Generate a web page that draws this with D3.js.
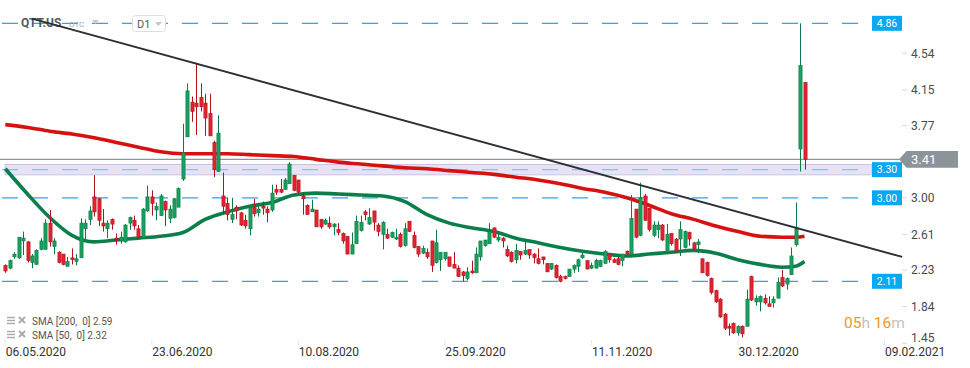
<!DOCTYPE html>
<html><head><meta charset="utf-8">
<script src="https://cdn.jsdelivr.net/npm/d3@7"></script>
<style>
html,body{margin:0;padding:0;background:#fff;}
svg{display:block;font-family:Roboto,"Noto Sans",Arial,sans-serif;}
</style></head><body>
<svg id="chart" width="970" height="368"></svg>
<script>
// ---- DATA (daily candles, QTT.US) ----
const openP = [
2.28,2.25,2.37,2.36,2.54,2.53,2.31,2.29,2.45,2.45,
2.73,2.48,2.42,2.40,2.27,2.36,2.32,2.36,2.67,2.77,
3.01,2.99,2.73,2.67,2.77,2.57,2.54,2.53,2.73,2.76,
2.67,2.58,2.86,3.01,2.87,2.81,2.96,2.78,2.79,2.90,
3.20,3.65,4.02,4.01,4.07,4.01,3.90,3.59,3.28,3.02,
2.94,2.77,2.90,2.84,2.76,2.67,2.90,2.84,2.91,2.88,
2.87,3.09,3.09,3.09,3.15,3.24,3.19,3.02,2.92,2.85,
2.87,2.77,2.72,2.73,2.69,2.66,2.62,2.59,2.40,2.51,
2.65,2.85,2.72,2.86,2.71,2.61,2.61,2.58,2.56,2.61,
2.49,2.75,2.60,2.48,2.41,2.42,2.54,2.31,2.34,2.35,
2.37,2.29,2.25,2.21,2.14,2.22,2.20,2.37,2.49,2.51,
2.68,2.55,2.57,2.45,2.42,2.34,2.43,2.40,2.45,2.40,
2.35,2.37,2.30,2.24,2.28,2.16,2.16,2.16,2.24,2.27,
2.36,2.33,2.25,2.25,2.27,2.30,2.40,2.34,2.35,2.33,
2.43,2.40,2.88,2.60,3.02,2.89,2.60,2.66,2.71,2.42,
2.62,2.56,2.56,2.47,2.63,2.52,2.50,2.35,2.31,2.14,
2.01,1.92,1.76,1.63,1.66,1.56,1.63,1.63,2.16,1.89,
1.89,1.93,1.87,1.88,1.93,2.15,2.08,2.18,2.50,3.52,
4.23];
const highP = [
2.29,2.34,2.42,2.58,2.64,2.54,2.40,2.45,2.57,2.77,
2.87,2.57,2.43,2.40,2.37,2.46,2.40,2.78,2.77,2.91,
3.24,3.00,2.88,2.76,2.78,2.62,2.64,2.72,2.80,2.81,
2.71,2.89,3.13,3.08,2.95,3.04,2.97,2.92,3.00,3.11,
3.79,4.22,4.08,4.44,4.22,4.11,4.11,3.61,3.88,3.27,
3.00,3.00,2.92,2.85,2.82,2.91,2.99,2.94,2.96,2.91,
3.14,3.14,3.20,3.21,3.38,3.24,3.19,3.05,2.93,2.98,
2.87,2.77,2.78,2.80,2.73,2.73,2.63,2.59,2.63,2.81,
2.81,2.87,2.89,2.86,2.73,2.75,2.67,2.64,2.67,2.63,
2.73,2.75,2.64,2.48,2.49,2.46,2.54,2.66,2.42,2.42,
2.37,2.42,2.28,2.22,2.26,2.33,2.47,2.54,2.55,2.73,
2.68,2.63,2.58,2.49,2.43,2.51,2.43,2.56,2.45,2.41,
2.46,2.37,2.30,2.30,2.29,2.18,2.17,2.24,2.29,2.35,
2.42,2.33,2.31,2.35,2.34,2.44,2.40,2.36,2.37,2.40,
2.44,3.03,2.88,3.16,3.04,2.89,2.75,2.75,2.72,2.72,
2.62,2.57,2.75,2.65,2.64,2.53,2.56,2.35,2.32,2.15,
2.02,1.93,1.77,1.66,1.67,1.64,1.64,2.02,2.17,1.96,
1.96,1.97,1.95,1.95,2.15,2.23,2.15,2.47,2.95,4.86,
4.23];
const lowP = [
2.20,2.24,2.35,2.35,2.39,2.31,2.25,2.29,2.44,2.45,
2.48,2.40,2.30,2.28,2.27,2.29,2.28,2.36,2.56,2.71,
2.80,2.70,2.64,2.57,2.66,2.50,2.51,2.52,2.66,2.66,
2.57,2.58,2.85,2.81,2.76,2.81,2.70,2.73,2.78,2.90,
3.18,3.65,3.81,3.67,3.92,3.66,3.66,3.22,3.28,2.82,
2.76,2.73,2.77,2.70,2.67,2.60,2.80,2.80,2.82,2.74,
2.85,3.03,3.05,3.09,3.15,3.07,3.05,2.82,2.82,2.85,
2.69,2.67,2.71,2.67,2.60,2.60,2.51,2.40,2.40,2.51,
2.64,2.76,2.71,2.65,2.59,2.45,2.56,2.57,2.55,2.47,
2.48,2.64,2.46,2.37,2.40,2.35,2.21,2.30,2.22,2.33,
2.27,2.25,2.16,2.11,2.12,2.19,2.20,2.33,2.48,2.51,
2.57,2.53,2.47,2.37,2.31,2.30,2.34,2.39,2.35,2.30,
2.29,2.29,2.21,2.23,2.14,2.10,2.13,2.16,2.20,2.21,
2.35,2.24,2.24,2.25,2.26,2.30,2.31,2.31,2.28,2.27,
2.39,2.40,2.57,2.59,2.76,2.64,2.58,2.57,2.54,2.40,
2.49,2.42,2.38,2.46,2.49,2.44,2.41,2.20,2.16,1.97,
1.88,1.72,1.59,1.53,1.55,1.53,1.51,1.63,1.90,1.85,
1.79,1.86,1.84,1.83,1.93,2.05,2.02,2.18,2.48,3.28,
3.30];
const closeP = [
2.22,2.33,2.40,2.58,2.57,2.33,2.38,2.44,2.54,2.73,
2.53,2.54,2.31,2.29,2.32,2.34,2.35,2.73,2.73,2.86,
2.85,2.76,2.70,2.73,2.72,2.55,2.58,2.71,2.79,2.70,
2.58,2.88,3.01,2.94,2.91,3.02,2.87,2.88,2.99,3.10,
3.48,4.14,3.92,3.97,3.97,3.85,3.66,3.30,3.69,2.91,
2.82,2.82,2.86,2.71,2.70,2.90,2.83,2.88,2.89,2.84,
3.05,3.06,3.06,3.19,3.36,3.08,3.06,2.99,2.82,2.88,
2.69,2.69,2.76,2.69,2.72,2.63,2.54,2.40,2.50,2.75,
2.74,2.82,2.79,2.74,2.64,2.74,2.57,2.63,2.58,2.48,
2.67,2.64,2.47,2.40,2.46,2.37,2.28,2.52,2.42,2.42,
2.27,2.25,2.16,2.17,2.21,2.20,2.40,2.54,2.55,2.64,
2.58,2.58,2.54,2.38,2.32,2.44,2.39,2.44,2.39,2.36,
2.30,2.34,2.21,2.30,2.15,2.11,2.14,2.24,2.28,2.34,
2.39,2.24,2.28,2.33,2.33,2.43,2.34,2.31,2.29,2.40,
2.40,2.78,2.58,3.00,2.76,2.66,2.71,2.71,2.55,2.61,
2.51,2.43,2.66,2.64,2.56,2.46,2.53,2.20,2.17,1.99,
1.89,1.73,1.61,1.61,1.56,1.63,1.55,1.92,1.91,1.93,
1.95,1.88,1.84,1.92,2.10,2.06,2.14,2.38,2.68,4.41,
3.41];

const smaIdx = [0,5,10,15,20,25,30,35,40,45,50,55,60,65,70,75,80,85,90,95,100,105,110,115,120,125,130,135,140,145,150,155,160,165,170,175,178,180];
const sma200 = [3.78,3.75,3.71,3.68,3.64,3.59,3.54,3.49,3.47,3.47,3.47,3.46,3.45,3.44,3.41,3.38,3.36,3.34,3.32,3.31,3.29,3.27,3.25,3.22,3.19,3.15,3.10,3.06,3.00,2.92,2.83,2.77,2.70,2.64,2.59,2.58,2.58,2.59];
const sma50  = [3.31,3.04,2.79,2.60,2.53,2.55,2.57,2.59,2.63,2.77,2.85,2.91,2.95,3.03,3.05,3.04,3.03,3.02,2.96,2.82,2.73,2.68,2.64,2.57,2.52,2.47,2.43,2.40,2.38,2.40,2.42,2.44,2.41,2.34,2.29,2.26,2.27,2.32];

const trendIdx = [6, 202];
const trendVal = [4.91, 2.37];

const dateTickIdx = [0,33,66,99,132,165,198];
const dateLabels = ["06.05.2020","23.06.2020","10.08.2020","25.09.2020","11.11.2020","30.12.2020","09.02.2021"];
const priceTicks = [4.54,4.15,3.77,3.00,2.61,2.23,1.84,1.45];
const levels = [4.86,3.30,3.00,2.11];
const bandRange = [3.245,3.355];
const lastPrice = 3.41;
const legendItems = ["SMA [200,  0] 2.59","SMA [50,  0] 2.32"];

// ---- SCALES ----
const svg = d3.select("#chart");
const x = d3.scaleLinear().domain([0,180]).range([5.3,804.5]);
const y = d3.scaleLinear().domain([1.45,4.86]).range([197.8+1.55*93.8, 197.8-1.86*93.8]);

// band
svg.append("rect").attr("x",5).attr("width",867)
  .attr("y",y(bandRange[1])).attr("height",y(bandRange[0])-y(bandRange[1]))
  .attr("fill","#e7e2f4").attr("stroke","#cbc2e4").attr("stroke-width",1);

// level dashed lines
levels.forEach(v=>{
  svg.append("line").attr("x1",2).attr("x2",858).attr("y1",y(v)).attr("y2",y(v))
    .attr("stroke", v===3.30 ? "#7dc4ee" : "#2aa6ea").attr("stroke-width",1.3)
    .attr("stroke-dasharray","16,14");
});

// last price line
svg.append("line").attr("x1",0).attr("x2",900).attr("y1",y(lastPrice)).attr("y2",y(lastPrice))
  .attr("stroke","#8d9599").attr("stroke-width",1.2);

// title
const title = svg.append("g");
title.append("text").attr("x",21).attr("y",27).attr("font-size",12).attr("font-weight","bold")
  .attr("fill","#515b62").text("QTT.US");
title.append("text").attr("x",69).attr("y",27).attr("font-size",8).attr("fill","#9ea7ad").text("OTC");
title.append("path").attr("d","M92,20 L99,20 L95.5,24 Z").attr("fill","#c4c9cc");
title.append("rect").attr("x",132.5).attr("y",15.5).attr("width",33).attr("height",16).attr("rx",3)
  .attr("fill","#fff").attr("stroke","#dcdfe1");
title.append("text").attr("x",137).attr("y",27.5).attr("font-size",11).attr("fill","#515b62").text("D1");
title.append("path").attr("d","M155,22 L162,22 L158.5,26 Z").attr("fill","#c4c9cc");

// SMA lines
const line = d3.line().x(d=>x(d[0])).y(d=>y(d[1])).curve(d3.curveMonotoneX);
svg.append("path").datum(smaIdx.map((i,k)=>[i,sma200[k]])).attr("d",line)
  .attr("fill","none").attr("stroke","#d71010").attr("stroke-width",3.6).attr("stroke-linejoin","round");
svg.append("path").datum(smaIdx.map((i,k)=>[i,sma50[k]])).attr("d",line)
  .attr("fill","none").attr("stroke","#0a7f4b").attr("stroke-width",3.6).attr("stroke-linejoin","round");

// candles
const candles = openP.map((o,i)=>({i,o,h:highP[i],l:lowP[i],c:closeP[i]}));
const cg = svg.append("g");
candles.forEach(d=>{
  const up = d.c>=d.o;
  const stroke = up ? "#0b7a45" : "#b2141f";
  const fill = up ? "#17a05e" : "#e0232f";
  const cx = Math.round(x(d.i))+0.5;
  cg.append("line").attr("x1",cx).attr("x2",cx).attr("y1",y(d.h)).attr("y2",y(d.l))
    .attr("stroke",stroke).attr("stroke-width",1);
  const top = y(Math.max(d.o,d.c)), bot = y(Math.min(d.o,d.c));
  cg.append("rect").attr("x",cx-1.6).attr("width",3.2).attr("y",top).attr("height",Math.max(1,bot-top))
    .attr("fill",fill).attr("stroke",stroke).attr("stroke-width",0.6);
});

// trend line
svg.append("line").attr("x1",x(trendIdx[0])).attr("y1",y(trendVal[0]))
  .attr("x2",x(trendIdx[1])).attr("y2",y(trendVal[1]))
  .attr("stroke","#2c3036").attr("stroke-width",2);

// level labels
levels.forEach(v=>{
  svg.append("rect").attr("x",872).attr("y",y(v)-7.5).attr("width",30).attr("height",15).attr("fill","#0aa8f2");
  svg.append("text").attr("x",887).attr("y",y(v)+3.8).attr("text-anchor","middle")
    .attr("font-size",10.5).attr("fill","#fff").text(v.toFixed(2));
});

// right axis
priceTicks.forEach(v=>{
  const yy = Math.min(y(v),337.5);
  svg.append("line").attr("x1",902).attr("x2",907).attr("y1",y(v)).attr("y2",y(v)).attr("stroke","#d5d8da");
  svg.append("text").attr("x",911).attr("y",yy+4.3).attr("font-size",12).attr("fill","#4a4a4a").text(v.toFixed(2));
});

// last price tag
const ly = y(lastPrice);
svg.append("path").attr("d",`M899,${ly} L906.5,${ly-8.3} L958,${ly-8.3} L958,${ly+8.3} L906.5,${ly+8.3} Z`).attr("fill","#8b9499");
svg.append("text").attr("x",911).attr("y",ly+4.6).attr("font-size",13).attr("fill","#fff").text(lastPrice.toFixed(2));

// x axis
dateTickIdx.forEach((i,k)=>{
  svg.append("line").attr("x1",x(i)).attr("x2",x(i)).attr("y1",340).attr("y2",345).attr("stroke","#e6e6e6");
  svg.append("text").attr("x",x(i)+0.5).attr("y",356).attr("font-size",12).attr("fill","#333").text(dateLabels[k]);
});

// countdown
const cd = svg.append("text").attr("x",844).attr("y",328).attr("font-size",15.5);
cd.append("tspan").attr("fill","#f6941f").text("05");
cd.append("tspan").attr("fill","#c3c3c3").text("h ");
cd.append("tspan").attr("fill","#f6941f").text("16");
cd.append("tspan").attr("fill","#c3c3c3").text("m");

// legend
legendItems.forEach((t,k)=>{
  const yy = 321 + k*14;
  const g = svg.append("g");
  [-3,0,3].forEach(dy=>g.append("line").attr("x1",7).attr("x2",15).attr("y1",yy+dy-0.5).attr("y2",yy+dy-0.5)
    .attr("stroke","#a9a9a9").attr("stroke-width",1.4));
  g.append("path").attr("d",`M19,${yy-4} L25,${yy+2} M25,${yy-4} L19,${yy+2}`).attr("stroke","#a9a9a9").attr("stroke-width",1.8);
  g.append("text").attr("x",32).attr("y",yy+3.5).attr("font-size",10).attr("fill","#555")
    .style("white-space","pre").text(t);
});
</script>
</body></html>
